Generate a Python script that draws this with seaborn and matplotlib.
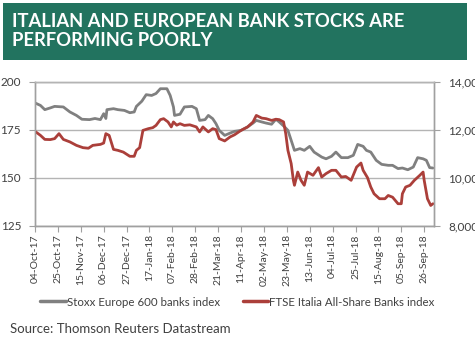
import matplotlib
matplotlib.use("Agg")
import matplotlib.pyplot as plt
import matplotlib.dates as mdates
from matplotlib.ticker import FuncFormatter
import seaborn as sns
import pandas as pd

# ---- data ----
stoxx_dates = ["2017-10-04", "2017-10-09", "2017-10-13", "2017-10-18", "2017-10-22", "2017-10-30",
               "2017-11-05", "2017-11-11", "2017-11-16", "2017-11-23", "2017-11-28", "2017-12-03",
               "2017-12-06", "2017-12-08", "2017-12-09", "2017-12-15", "2017-12-19", "2017-12-25",
               "2017-12-30", "2018-01-03", "2018-01-05", "2018-01-10", "2018-01-14", "2018-01-19",
               "2018-01-23", "2018-01-27", "2018-02-02", "2018-02-05", "2018-02-08", "2018-02-09",
               "2018-02-14", "2018-02-18", "2018-02-25", "2018-03-01", "2018-03-04", "2018-03-09",
               "2018-03-12", "2018-03-16", "2018-03-19", "2018-03-22", "2018-03-27", "2018-04-01",
               "2018-04-05", "2018-04-11", "2018-04-17", "2018-04-22", "2018-04-25", "2018-04-30",
               "2018-05-04", "2018-05-09", "2018-05-13", "2018-05-16", "2018-05-21", "2018-05-24",
               "2018-05-27", "2018-05-30", "2018-06-04", "2018-06-08", "2018-06-13", "2018-06-17",
               "2018-06-24", "2018-06-28", "2018-07-03", "2018-07-07", "2018-07-12", "2018-07-18",
               "2018-07-23", "2018-07-27", "2018-08-01", "2018-08-04", "2018-08-08", "2018-08-13",
               "2018-08-18", "2018-08-24", "2018-08-28", "2018-09-02", "2018-09-06", "2018-09-11",
               "2018-09-16", "2018-09-20", "2018-09-25", "2018-09-28", "2018-10-01", "2018-10-04"]
stoxx_values = [189.1, 187.8, 185.6, 186.5, 187.3, 187.0,
                184.4, 182.6, 180.6, 180.4, 181.0, 180.4,
                183.5, 181.0, 185.6, 186.1, 185.6, 185.2,
                184.0, 184.4, 187.3, 190.0, 193.4, 193.0,
                194.0, 196.5, 196.5, 193.0, 187.0, 182.6,
                183.2, 187.0, 187.3, 186.1, 180.0, 180.4,
                182.6, 180.9, 178.3, 174.8, 172.2, 173.4,
                174.3, 174.8, 176.6, 178.6, 180.0, 179.2,
                178.6, 178.0, 180.6, 179.2, 176.6, 174.8,
                169.6, 164.4, 165.3, 164.4, 166.5, 163.5,
                160.9, 160.0, 161.3, 163.5, 160.6, 160.6,
                161.8, 167.5, 166.5, 164.4, 163.5, 159.2,
                157.1, 156.6, 156.6, 154.9, 155.2, 154.3,
                155.7, 160.6, 160.0, 159.2, 155.4, 155.2]

ftse_dates = ["2017-10-04", "2017-10-09", "2017-10-13", "2017-10-18", "2017-10-22", "2017-10-26",
              "2017-10-30", "2017-11-05", "2017-11-11", "2017-11-17", "2017-11-22", "2017-11-26",
              "2017-12-03", "2017-12-06", "2017-12-08", "2017-12-11", "2017-12-15", "2017-12-19",
              "2017-12-24", "2017-12-30", "2018-01-03", "2018-01-05", "2018-01-08", "2018-01-11",
              "2018-01-16", "2018-01-20", "2018-01-23", "2018-01-27", "2018-01-30", "2018-02-03",
              "2018-02-06", "2018-02-08", "2018-02-11", "2018-02-14", "2018-02-18", "2018-02-23",
              "2018-03-01", "2018-03-04", "2018-03-07", "2018-03-12", "2018-03-16", "2018-03-19",
              "2018-03-22", "2018-03-27", "2018-04-01", "2018-04-05", "2018-04-11", "2018-04-17",
              "2018-04-22", "2018-04-25", "2018-04-30", "2018-05-04", "2018-05-09", "2018-05-13",
              "2018-05-16", "2018-05-20", "2018-05-22", "2018-05-24", "2018-05-27", "2018-05-29",
              "2018-05-30", "2018-06-02", "2018-06-05", "2018-06-08", "2018-06-11", "2018-06-16",
              "2018-06-21", "2018-06-24", "2018-06-28", "2018-07-03", "2018-07-07", "2018-07-12",
              "2018-07-16", "2018-07-21", "2018-07-26", "2018-07-30", "2018-08-01", "2018-08-05",
              "2018-08-08", "2018-08-11", "2018-08-16", "2018-08-21", "2018-08-24", "2018-08-28",
              "2018-09-02", "2018-09-05", "2018-09-06", "2018-09-09", "2018-09-13", "2018-09-17",
              "2018-09-22", "2018-09-25", "2018-09-26", "2018-09-29", "2018-10-02", "2018-10-04"]
ftse_values = [11944, 11776, 11608, 11600, 11640, 11848,
               11608, 11504, 11360, 11264, 11240, 11360,
               11400, 11456, 11848, 11776, 11192, 11152,
               11080, 10904, 10904, 11152, 11264, 11984,
               12056, 12096, 12192, 12432, 12472, 12336,
               12128, 12336, 12200, 12264, 12192, 12216,
               12128, 11920, 12128, 11920, 12056, 12016,
               11640, 11544, 11712, 11800, 11984, 12128,
               12336, 12608, 12496, 12472, 12400, 12448,
               12432, 12336, 11848, 11152, 10600, 9904,
               9696, 10248, 9904, 9696, 10248, 10112,
               10432, 10040, 10184, 10320, 10320, 10040,
               10064, 9904, 10456, 10624, 10320, 10016,
               9624, 9344, 9136, 9136, 9272, 9200,
               8928, 8928, 9344, 9624, 9696, 9904,
               10112, 10248, 9904, 9136, 8856, 8928]

stoxx_label = "Stoxx Europe 600 banks index"
ftse_label = "FTSE Italia All-Share Banks index"
title_text = "ITALIAN AND EUROPEAN BANK STOCKS ARE\nPERFORMING POORLY"
source_text = "Source: Thomson Reuters Datastream"
left_ticks = [125, 150, 175, 200]
right_ticks = [8000, 10000, 12000, 14000]
first_tick = "2017-10-04"
last_tick = "2018-09-26"
x_end = "2018-10-05"

# ---- style ----
sns.set_style("white")
plt.rcParams["font.family"] = ["Lato", "DejaVu Sans"]

GRAY = "#808080"
RED = "#ab3f3a"
GREEN = "#22735f"
TXT = "#404040"
AXC = "#a0a0a0"

df_s = pd.DataFrame({"date": pd.to_datetime(stoxx_dates), "value": stoxx_values})
df_f = pd.DataFrame({"date": pd.to_datetime(ftse_dates), "value": ftse_values})

fig = plt.figure(figsize=(4.75, 3.38), dpi=100)
ax = fig.add_axes([35 / 475, 1 - 226 / 338, (434 - 35) / 475, (226 - 82) / 338])
ax2 = ax.twinx()

sns.lineplot(data=df_s, x="date", y="value", ax=ax, color=GRAY, linewidth=2.0, label=stoxx_label, legend=False)
sns.lineplot(data=df_f, x="date", y="value", ax=ax2, color=RED, linewidth=2.0, label=ftse_label, legend=False)

ax.set_xlim(pd.Timestamp(first_tick), pd.Timestamp(x_end))
ax.set_ylim(125, 200)
ax2.set_ylim(8000, 14000)
ax.set_yticks(left_ticks)
ax2.set_yticks(right_ticks)
ax2.yaxis.set_major_formatter(FuncFormatter(lambda v, p: f"{int(v):,}"))
ax.yaxis.grid(True, color="#b4b4b4", linewidth=1.0)
ax.set_axisbelow(True)

xt = pd.date_range(first_tick, last_tick, freq="21D")
ax.set_xticks(xt)
ax.xaxis.set_major_formatter(mdates.DateFormatter("%d-%b-%y"))
for lab in ax.get_xticklabels():
    lab.set_rotation(90)

for a in (ax, ax2):
    a.set_xlabel("")
    a.set_ylabel("")
    for s in a.spines.values():
        s.set_color(AXC)
        s.set_linewidth(1.0)
    a.spines["top"].set_color("#b4b4b4")
ax.tick_params(axis="x", labelsize=7.5, colors=TXT, length=4, width=0.8, color=AXC, pad=2, direction="out")
ax.tick_params(axis="y", labelsize=8.5, colors=TXT, length=4, width=0.8, color=AXC, pad=6)
ax2.tick_params(axis="y", labelsize=8.5, colors=TXT, length=4, width=0.8, color=AXC, pad=6)
ax.tick_params(axis="x", bottom=True)

# title banner
fig.patches.append(plt.Rectangle((3 / 475, 1 - 60 / 338), 464 / 475, 57 / 338,
                                 transform=fig.transFigure, facecolor=GREEN, edgecolor="none"))
fig.text(12 / 475, 1 - 31 / 338, title_text, color="white", fontsize=13.2, fontweight="bold",
         ha="left", va="center", linespacing=1.15)

# legend
h1, = ax.plot([], [], color=GRAY, linewidth=2.5)
h2, = ax.plot([], [], color=RED, linewidth=2.5)
fig.legend([h1, h2], [stoxx_label, ftse_label], loc="center", bbox_to_anchor=(0.5, 1 - 302 / 338),
           ncol=2, frameon=False, fontsize=8.3, handlelength=2.2, handletextpad=0.1,
           columnspacing=2.0, labelcolor=TXT)

fig.text(10 / 475, 1 - 329 / 338, source_text, color=TXT, fontsize=9.5, ha="left", va="center")

fig.savefig("out.png", dpi=100)
